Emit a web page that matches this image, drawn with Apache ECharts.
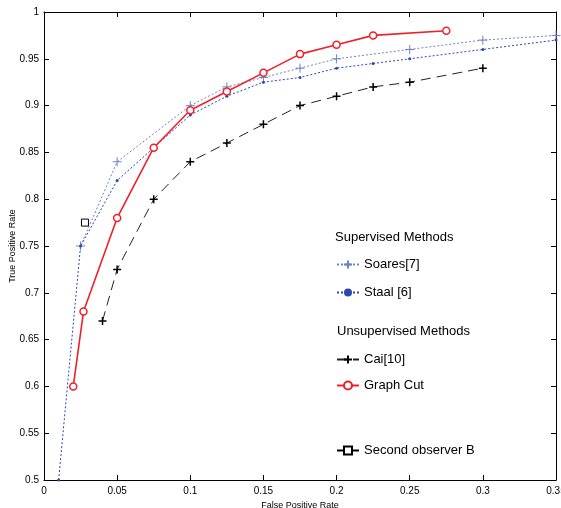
<!DOCTYPE html>
<html><head><meta charset="utf-8">
<script src="https://cdn.jsdelivr.net/npm/echarts@6/dist/echarts.min.js"></script>
<style>html,body{margin:0;padding:0;background:#fff}#c{width:561px;height:508px}</style>
</head><body><div id="c"></div>
<script>
// Data
const soares = [[0.025,0.75],[0.05,0.84],[0.1,0.9],[0.125,0.92],[0.15,0.93],[0.175,0.94],[0.2,0.95],[0.25,0.96],[0.3,0.97],[0.35,0.975]];
const staal = [[0.01,0.5],[0.025,0.75],[0.05,0.82],[0.1,0.89],[0.125,0.91],[0.15,0.925],[0.175,0.93],[0.2,0.94],[0.225,0.945],[0.25,0.95],[0.3,0.96],[0.35,0.97]];
const cai = [[0.04,0.67],[0.05,0.725],[0.075,0.8],[0.1,0.84],[0.125,0.86],[0.15,0.88],[0.175,0.9],[0.2,0.91],[0.225,0.92],[0.25,0.925],[0.3,0.94]];
const graphCut = [[0.02,0.6],[0.027,0.68],[0.05,0.78],[0.075,0.855],[0.1,0.895],[0.125,0.915],[0.15,0.935],[0.175,0.955],[0.2,0.965],[0.225,0.975],[0.275,0.98]];
const secondObserver = [[0.028,0.775]];
const xRange = {min:0, max:0.35, interval:0.05};
const yRange = {min:0.5, max:1, interval:0.05};
const headers = ['Supervised Methods','Unsupervised Methods'];
const axisNames = {x:'False Positive Rate', y:'True Positive Rate'};

const FONT = "'Liberation Sans',Arial,sans-serif";
const plusPath = 'path://M0,5L10,5M5,0L5,10';
const chart = echarts.init(document.getElementById('c'), null, {renderer:'canvas'});

function axisBase(extra){
  return Object.assign({
    type:'value', splitLine:{show:false},
    axisLine:{show:true, onZero:false, lineStyle:{color:'#000', width:1, type:'solid'}},
    axisTick:{show:true, inside:true, length:5, lineStyle:{color:'#000', type:'solid'}},
  }, extra);
}

const legendText = {fontFamily:FONT, fontSize:13, color:'#000'};

chart.setOption({
  animation:false,
  grid:{left:44, right:5, top:12, bottom:28, containLabel:false, outerBoundsMode:'none'},
  xAxis:[
    axisBase(Object.assign({position:'bottom', name:axisNames.x, nameLocation:'middle', nameGap:20,
      nameTextStyle:{fontFamily:FONT, fontSize:9, color:'#000'},
      axisLabel:{color:'#000', fontFamily:FONT, fontSize:10, margin:6}}, xRange)),
    axisBase(Object.assign({position:'top', axisLabel:{show:false}}, xRange))
  ],
  yAxis:[
    axisBase(Object.assign({position:'left', name:axisNames.y, nameLocation:'middle', nameGap:27, nameMoveOverlap:false,
      nameTextStyle:{fontFamily:FONT, fontSize:9, color:'#000'},
      axisLabel:{color:'#000', fontFamily:FONT, fontSize:10, margin:5}}, yRange)),
    axisBase(Object.assign({position:'right', axisLabel:{show:false}}, yRange))
  ],
  legend:[
    {orient:'vertical', left:331, top:253, itemWidth:22, itemHeight:10, itemGap:15, textStyle:legendText, data:['Soares[7]','Staal [6]']},
    {orient:'vertical', left:331, top:348, itemWidth:22, itemHeight:10, itemGap:13, textStyle:legendText, data:['Cai[10]','Graph Cut']},
    {orient:'vertical', left:331, top:439, itemWidth:22, itemHeight:10, textStyle:legendText, data:['Second observer B']}
  ],
  graphic:[
    {type:'text', left:335, top:231, style:{text:headers[0], font:"13px "+FONT, fill:'#000'}},
    {type:'text', left:337, top:325, style:{text:headers[1], font:"13px "+FONT, fill:'#000'}}
  ],
  series:[
    {name:'Soares[7]', type:'line', data:soares, color:'#6f82c8', symbol:plusPath, symbolSize:9,
      lineStyle:{type:[2,2], width:1, color:'#6f82c8'}, itemStyle:{color:'#6f82c8', borderColor:'#6f82c8', borderWidth:1, borderType:'solid'}},
    {name:'Staal [6]', type:'line', data:staal, color:'#2c48b0', symbol:'circle', symbolSize:3,
      lineStyle:{type:[2,2], width:1, color:'#2c48b0'}, itemStyle:{color:'#2c48b0', borderType:'solid'}},
    {name:'Cai[10]', type:'line', data:cai, color:'#000', symbol:plusPath, symbolSize:8,
      lineStyle:{type:[10,6], width:1, color:'#222'}, itemStyle:{color:'#000', borderColor:'#000', borderWidth:1.5, borderType:'solid'}},
    {name:'Graph Cut', type:'line', data:graphCut, color:'#f0202a', symbol:'circle', symbolSize:7,
      lineStyle:{type:'solid', width:1.6, color:'#f0202a'}, itemStyle:{color:'#ffffff', borderColor:'#f0202a', borderWidth:1.5, borderType:'solid'}},
    {name:'Second observer B', type:'line', data:secondObserver, color:'#000', symbol:'rect', symbolSize:7,
      lineStyle:{type:'solid', width:1, color:'#000'}, itemStyle:{color:'#ffffff', borderColor:'#000', borderWidth:1, borderType:'solid'}}
  ]
});
</script></body></html>
